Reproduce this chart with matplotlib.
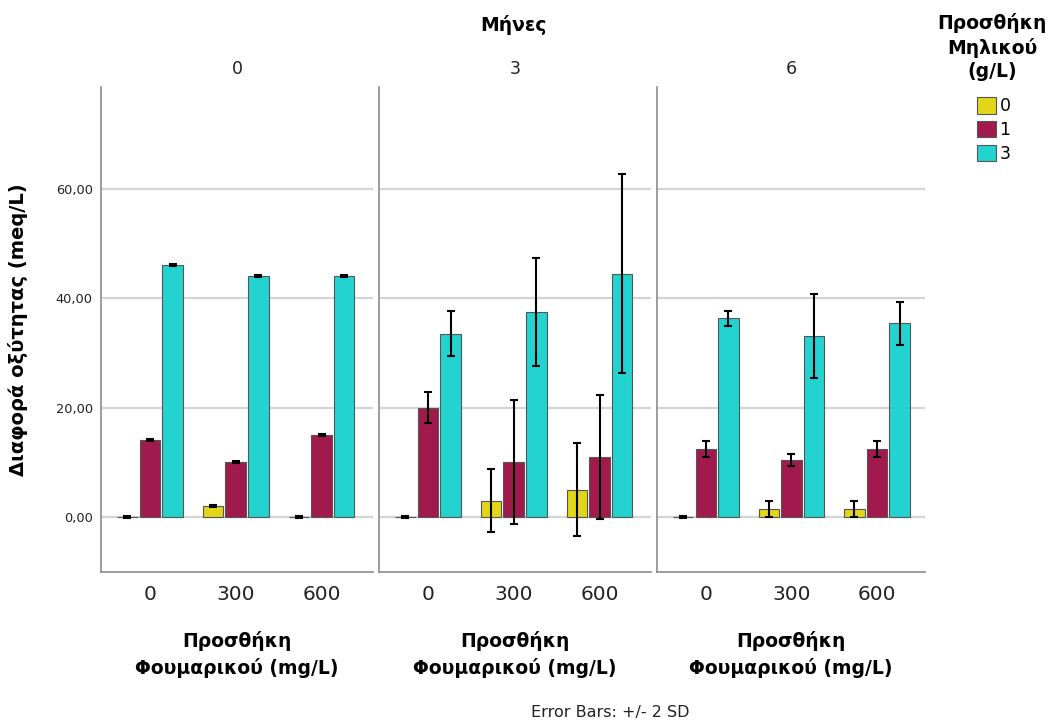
import numpy as np
import matplotlib
matplotlib.use("Agg")
import matplotlib.pyplot as plt
import matplotlib.patches as mpatches

plt.rcParams['font.family'] = ['DejaVu Sans']

# data (means and 2*SD error half-widths)
months = ['0', '3', '6']
fumaric = ['0', '300', '600']
apple = ['0', '1', '3']
colors = ['#e3d518', '#a11a4e', '#22d3d0']

means_m0 = [[0, 14, 46], [2, 10, 44], [0, 15, 44]]
err_m0 = [[0.2, 0.2, 0.2], [0.2, 0.2, 0.2], [0.2, 0.2, 0.2]]
means_m3 = [[0, 20, 33.5], [3, 10, 37.5], [5, 11, 44.5]]
err_m3 = [[0.2, 2.85, 4.15], [5.8, 11.35, 9.85], [8.5, 11.35, 18.25]]
means_m6 = [[0, 12.4, 36.35], [1.45, 10.4, 33.1], [1.45, 12.4, 35.4]]
err_m6 = [[0.2, 1.5, 1.35], [1.4, 1.05, 7.7], [1.4, 1.5, 3.9]]

all_means = [means_m0, means_m3, means_m6]
all_err = [err_m0, err_m3, err_m6]

fig = plt.figure(figsize=(10.56, 7.24), dpi=100)

lefts = [101, 379, 657]
widths = [272, 272, 268]
W, H = 1056, 724
bw = 0.24
step = 0.264
x = np.arange(len(fumaric))

for p in range(3):
    ax = fig.add_axes([lefts[p] / W, 1 - 572 / H, widths[p] / W, (572 - 87) / H])
    m = np.array(all_means[p])
    e = np.array(all_err[p])
    for a in range(3):
        xs = x + (a - 1) * step
        ax.bar(xs, m[:, a], width=bw, color=colors[a], edgecolor='#555555',
               linewidth=0.8, zorder=3)
        ax.errorbar(xs, m[:, a], yerr=e[:, a], fmt='none', ecolor='black',
                    elinewidth=1.5, capsize=3, capthick=1.5, zorder=4)
    ax.set_xlim(-0.57, 2.60 if p < 2 else 2.56)
    ax.set_ylim(-10.06, 78.6)
    ax.set_yticks([0, 20, 40, 60])
    ax.yaxis.grid(True, color='#d4d4d4', linewidth=1.6, zorder=0)
    ax.set_axisbelow(True)
    for s in ['top', 'right']:
        ax.spines[s].set_visible(False)
    for s in ['left', 'bottom']:
        ax.spines[s].set_color('#8c8c8c')
        ax.spines[s].set_linewidth(1.2)
    ax.set_xticks(x)
    ax.set_xticklabels(fumaric, fontsize=14.5, color='#222222')
    ax.tick_params(axis='both', length=0)
    ax.tick_params(axis='x', pad=9)
    if p == 0:
        ax.set_yticklabels(['0,00', '20,00', '40,00', '60,00'], fontsize=9.3,
                           color='#222222')
        ax.tick_params(axis='y', pad=6)
        ax.set_ylabel('Διαφορά οξύτητας (meq/L)', fontsize=14,
                      fontweight='bold', labelpad=20)
    else:
        ax.set_yticklabels([])
    ax.set_title(months[p], fontsize=12.5, pad=9, color='#222222')
    ax.set_xlabel('Προσθήκη\nΦουμαρικού (mg/L)', fontsize=13.5,
                  fontweight='bold', labelpad=20, linespacing=1.42)

fig.text(514 / W, 1 - 25 / H, 'Μήνες', fontsize=13.5, fontweight='bold',
         ha='center', va='center')
fig.text(992 / W, 1 - 47 / H, 'Προσθήκη\nΜηλικού\n(g/L)', fontsize=13.5,
         fontweight='bold', ha='center', va='center', linespacing=1.3)

handles = [mpatches.Patch(facecolor=c, edgecolor='#555555', linewidth=0.8, label=l)
           for c, l in zip(colors, apple)]
fig.legend(handles=handles, loc='upper left', bbox_to_anchor=(970 / W, 1 - 90 / H),
           frameon=False, fontsize=12.5, handlelength=1.1, handleheight=1.1,
           handletextpad=0.2, labelspacing=0.32, borderaxespad=0)

fig.text(610 / W, 1 - 713 / H, 'Error Bars: +/- 2 SD', fontsize=11.5,
         ha='center', va='center', color='#222222')

fig.savefig('out.png', dpi=100)
